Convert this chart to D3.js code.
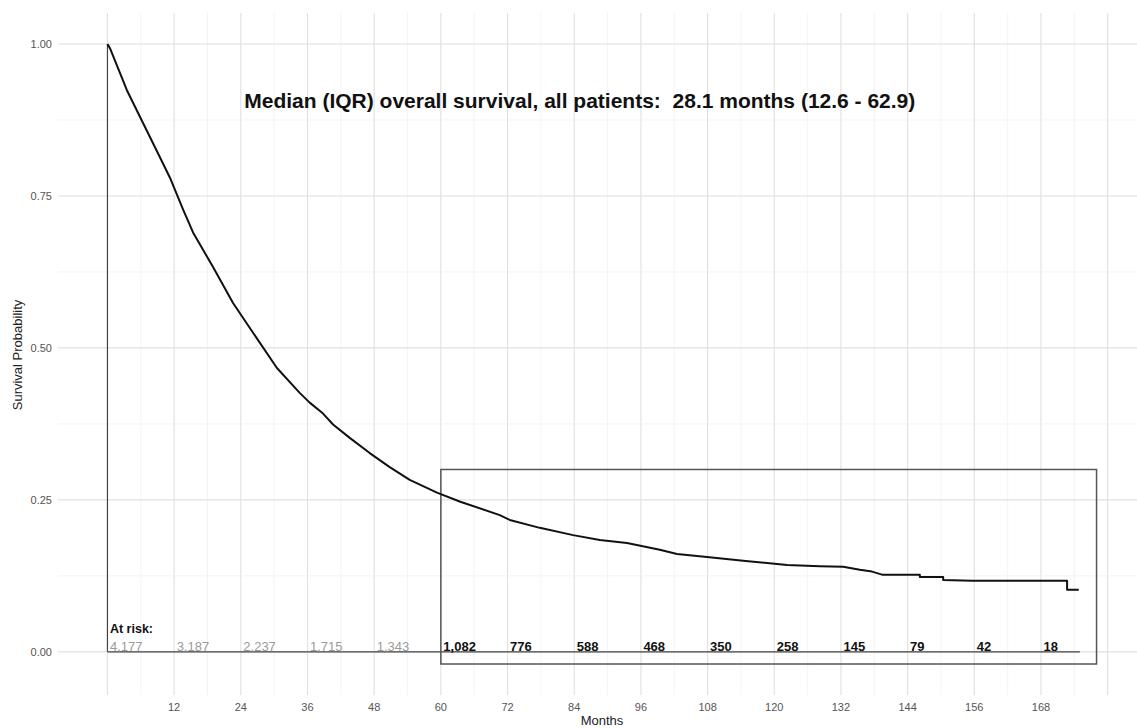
<!DOCTYPE html>
<html>
<head>
<meta charset="utf-8">
<script src="https://d3js.org/d3.v7.min.js"></script>
<style>
  body { margin: 0; background: #fff; }
  svg text { font-family: "Liberation Sans", Arial, sans-serif; white-space: pre; }
</style>
</head>
<body>
<svg id="chart" width="1137" height="728"></svg>
<script>
// Kaplan-Meier curve (months, survival)
var kmMonths = [0, 0.5, 3.5, 6.4, 9, 11.25, 13.6, 15.4, 19.0, 22.6, 26.2, 30.5, 34.6, 36.4, 38.8, 40.6,
  43.6, 47.2, 50.8, 54.4, 59.3, 63.5, 70.6, 72.4, 77.8, 83.8, 88.6, 93.5, 99.4, 102.5, 107.9,
  114.4, 122.3, 128.2, 132.4, 135.4, 137.6, 139.4, 146.2, 146.2, 150.4, 150.4, 155.6, 172.7, 172.7, 174.8];
var kmSurv = [1.0, 0.992, 0.924, 0.870, 0.822, 0.780, 0.728, 0.690, 0.633, 0.574, 0.525, 0.467, 0.426, 0.410, 0.392, 0.374,
  0.352, 0.327, 0.304, 0.283, 0.262, 0.247, 0.225, 0.217, 0.204, 0.192, 0.184, 0.179, 0.168, 0.161, 0.156,
  0.150, 0.143, 0.141, 0.140, 0.135, 0.132, 0.127, 0.127, 0.123, 0.123, 0.118, 0.117, 0.117, 0.102, 0.102];

// numbers at risk
var riskMonths = [0, 12, 24, 36, 48, 60, 72, 84, 96, 108, 120, 132, 144, 156, 168];
var riskCounts = ["4,177", "3,187", "2,237", "1,715", "1,343", "1,082", "776", "588", "468", "350", "258", "145", "79", "42", "18"];

var xTicks = [12, 24, 36, 48, 60, 72, 84, 96, 108, 120, 132, 144, 156, 168];
var yTicks = [0, 0.25, 0.5, 0.75, 1];
var titleText = "Median (IQR) overall survival, all patients:  28.1 months (12.6 - 62.9)";

var svg = d3.select("#chart");

var x = d3.scaleLinear().domain([-8.9, 186.9]).range([58, 1146]);
var y = d3.scaleLinear().domain([-0.071, 1.051]).range([695, 13]);

// grid
var grid = svg.append("g");
// minor vertical lines every 6 months, major every 12
d3.range(0, 181, 6).forEach(function (m) {
  grid.append("line")
    .attr("x1", x(m)).attr("x2", x(m))
    .attr("y1", y.range()[1]).attr("y2", y.range()[0])
    .attr("stroke", m % 12 === 0 ? "#e0e0e0" : "#f0f0f0")
    .attr("stroke-width", m % 12 === 0 ? 1.1 : 0.8);
});
d3.range(0, 1.01, 0.125).forEach(function (v) {
  var major = Math.abs(v * 4 - Math.round(v * 4)) < 1e-6;
  grid.append("line")
    .attr("x1", 58).attr("x2", 1137)
    .attr("y1", y(v)).attr("y2", y(v))
    .attr("stroke", major ? "#e0e0e0" : "#f0f0f0")
    .attr("stroke-width", major ? 1.1 : 0.8);
});

// axis labels
svg.append("g").selectAll("text")
  .data(yTicks).enter().append("text")
  .attr("x", 52).attr("y", function (d) { return y(d) + 4; })
  .attr("text-anchor", "end")
  .attr("font-size", "11px").attr("fill", "#555")
  .text(d3.format(".2f"));

svg.append("g").selectAll("text")
  .data(xTicks).enter().append("text")
  .attr("x", function (d) { return x(d); }).attr("y", 711)
  .attr("text-anchor", "middle")
  .attr("font-size", "11px").attr("fill", "#555")
  .text(function (d) { return d; });

svg.append("text")
  .attr("x", 602).attr("y", 725)
  .attr("text-anchor", "middle")
  .attr("font-size", "13px").attr("fill", "#222")
  .text("Months");

svg.append("text")
  .attr("transform", "translate(22,355) rotate(-90)")
  .attr("text-anchor", "middle")
  .attr("font-size", "13px").attr("fill", "#222")
  .text("Survival Probability");

// axis frame lines drawn inside the panel
svg.append("line")
  .attr("x1", x(0)).attr("x2", x(0))
  .attr("y1", y(0)).attr("y2", y(1))
  .attr("stroke", "#444").attr("stroke-width", 1.2);
svg.append("line")
  .attr("x1", x(0)).attr("x2", x(175))
  .attr("y1", y(0)).attr("y2", y(0))
  .attr("stroke", "#444").attr("stroke-width", 1.2);

// highlight box for the long-term survivors
svg.append("rect")
  .attr("x", x(60)).attr("y", y(0.30))
  .attr("width", x(178) - x(60)).attr("height", y(-0.02) - y(0.30))
  .attr("fill", "none").attr("stroke", "#555").attr("stroke-width", 1.5);

// survival curve
var line = d3.line()
  .x(function (d, i) { return x(kmMonths[i]); })
  .y(function (d) { return y(d); });
svg.append("path")
  .datum(kmSurv)
  .attr("d", line)
  .attr("fill", "none").attr("stroke", "#111").attr("stroke-width", 2)
  .attr("stroke-linejoin", "round");

// title annotation
svg.append("text")
  .attr("x", x(85)).attr("y", y(0.895))
  .attr("text-anchor", "middle")
  .attr("font-size", "21px").attr("font-weight", "bold").attr("fill", "#111")
  .text(titleText);

// at-risk table
svg.append("text")
  .attr("x", x(0) + 2.5).attr("y", y(0.031))
  .attr("font-size", "12.5px").attr("font-weight", "bold").attr("fill", "#111")
  .text("At risk:");

svg.append("g").selectAll("text")
  .data(riskMonths).enter().append("text")
  .attr("x", function (d) { return x(d) + 2.5; })
  .attr("y", y(0) - 0.5)
  .attr("font-size", "13px")
  .attr("font-weight", function (d) { return d >= 60 ? "bold" : "normal"; })
  .attr("fill", function (d) { return d >= 60 ? "#111" : "#9a9a9a"; })
  .text(function (d, i) { return riskCounts[i]; });
</script>
</body>
</html>
